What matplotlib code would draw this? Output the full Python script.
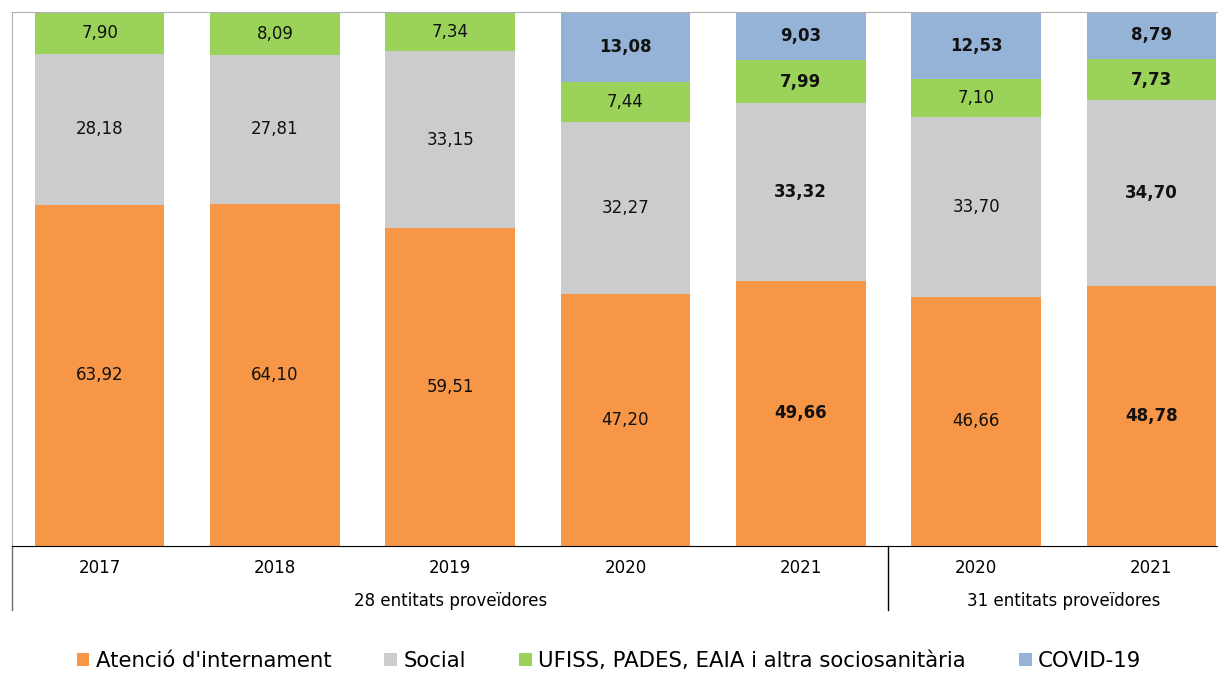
import matplotlib.pyplot as plt
import numpy as np

years = ["2017", "2018", "2019", "2020", "2021", "2020", "2021"]
groups = ["28 entitats proveïdores", "31 entitats proveïdores"]
group_sizes = [5, 2]

series_names = ["Atenció d'internament", "Social",
                "UFISS, PADES, EAIA i altra sociosanitària", "COVID-19"]
internament = [63.92, 64.10, 59.51, 47.20, 49.66, 46.66, 48.78]
social = [28.18, 27.81, 33.15, 32.27, 33.32, 33.70, 34.70]
ufiss = [7.90, 8.09, 7.34, 7.44, 7.99, 7.10, 7.73]
covid = [0, 0, 0, 13.08, 9.03, 12.53, 8.79]

# which labels are drawn in bold (per series, per bar)
bold_int = [False, False, False, False, True, False, True]
bold_soc = [False, False, False, False, True, False, True]
bold_ufi = [False, False, False, False, True, False, True]
bold_cov = [False, False, False, True, True, True, True]

colors = ["#F79646", "#CCCCCC", "#9BD35A", "#95B3D7"]

fig = plt.figure(figsize=(12.18, 6.73), dpi=100)
W, H = 1218, 673
ax = fig.add_axes([12 / W, 1 - 546 / H, 1227 / W, 534 / H])

x = np.arange(len(years))
data = [internament, social, ufiss, covid]
bolds = [bold_int, bold_soc, bold_ufi, bold_cov]
bottom = np.zeros(len(years))
for vals, col, name, bl in zip(data, colors, series_names, bolds):
    vals = np.array(vals)
    ax.bar(x, vals, 0.74, bottom=bottom, color=col, label=name)
    for i, v in enumerate(vals):
        if v > 0:
            ax.text(x[i], bottom[i] + v / 2, f"{v:.2f}".replace(".", ","),
                    ha="center", va="center", fontsize=12,
                    fontweight="bold" if bl[i] else "normal", color="#111111")
    bottom += vals

ax.set_xlim(-0.5, 6.5)
ax.set_ylim(0, 100)
ax.set_yticks([])
ax.set_xticks([])
for s in ["top", "left"]:
    ax.spines[s].set_color("#B0B0B0")
ax.spines["right"].set_visible(False)
ax.spines["bottom"].set_color("black")

# category labels under the axis
for i, y in enumerate(years):
    ax.text(x[i], -0.041, y, transform=ax.get_xaxis_transform(),
            ha="center", va="center", fontsize=12)
start = 0
for g, n in zip(groups, group_sizes):
    ax.text(start + (n - 1) / 2, -0.103, g, transform=ax.get_xaxis_transform(),
            ha="center", va="center", fontsize=12)
    start += n
# group separators
for xs, col in [(-0.5, "#707070"), (4.5, "black")]:
    ax.plot([xs, xs], [0, -0.12], transform=ax.get_xaxis_transform(),
            color=col, lw=1, clip_on=False)

fig.legend(loc="center", bbox_to_anchor=(0.5, 1 - 661 / H), ncol=4,
           frameon=False, fontsize=15.3, handlelength=0.6, handleheight=0.6,
           handletextpad=0.3, columnspacing=2.5)

fig.savefig("out.png", dpi=100)
